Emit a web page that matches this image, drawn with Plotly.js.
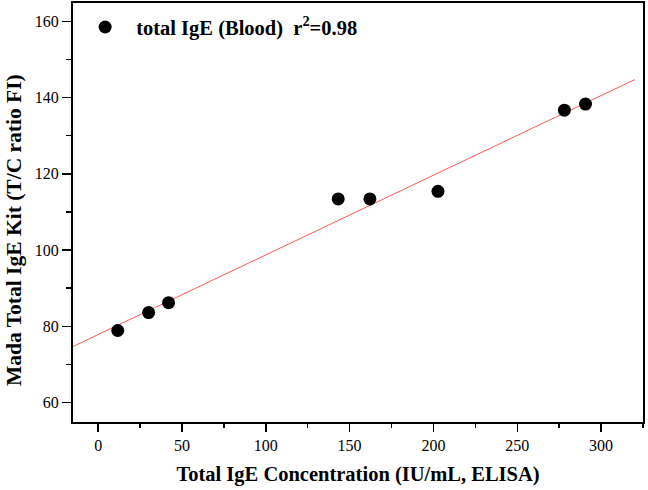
<!DOCTYPE html>
<html>
<head>
<meta charset="utf-8">
<script src="https://cdn.plot.ly/plotly-3.0.1.min.js"></script>
<style>html,body{margin:0;padding:0;background:#fff;}#chart{width:648px;height:490px;}</style>
</head>
<body>
<div id="chart"></div>
<script>
const concX = [11.7, 30.1, 42.0, 143.2, 162.1, 202.7, 278.1, 290.7];
const kitY = [78.9, 83.6, 86.2, 113.4, 113.4, 115.4, 136.7, 138.3];
const fitX = [-15, 320];
const fitY = [74.7, 144.7];
const seriesName = '<b>total IgE (Blood)  r<sup>2</sup>=0.98</b>';
const xTitle = '<b>Total IgE Concentration (IU/mL, ELISA)</b>';
const yTitle = '<b>Mada Total IgE Kit (T/C ratio FI)</b>';

const font = 'Liberation Serif, Times New Roman, serif';

const data = [
  {x: fitX, y: fitY, mode: 'lines', type: 'scatter', showlegend: false,
   line: {color: 'rgb(255,90,90)', width: 1}, hoverinfo: 'skip'},
  {x: concX, y: kitY, mode: 'markers', type: 'scatter', name: seriesName,
   marker: {color: '#000', size: 13, symbol: 'circle'}}
];

const layout = {
  width: 648, height: 490,
  margin: {l: 73, r: 5, t: 3, b: 68},
  paper_bgcolor: '#fff', plot_bgcolor: '#fff',
  font: {family: font, color: '#000', size: 16},
  showlegend: true,
  legend: {x: 0.002, y: 0.99, xanchor: 'left', yanchor: 'top',
           font: {family: font, size: 20.5, color: '#000'},
           bgcolor: 'rgba(0,0,0,0)', itemwidth: 52, itemsizing: 'trace'},
  xaxis: {
    range: [-15, 325], showgrid: false, zeroline: false,
    showline: true, linecolor: '#000', linewidth: 2, mirror: true,
    ticks: 'outside', ticklen: 8, tickwidth: 1.5, tickcolor: '#000',
    dtick: 50, tick0: 0,
    minor: {ticks: 'outside', ticklen: 4, tickwidth: 1.5, tickcolor: '#000', dtick: 25},
    tickfont: {family: font, size: 16},
    title: {text: xTitle, font: {family: font, size: 20.5}, standoff: 13}
  },
  yaxis: {
    range: [54.9, 164.8], showgrid: false, zeroline: false,
    showline: true, linecolor: '#000', linewidth: 2, mirror: true,
    ticks: 'outside', ticklen: 9, tickwidth: 1.5, tickcolor: '#000',
    dtick: 20, tick0: 0,
    minor: {ticks: 'outside', ticklen: 5, tickwidth: 1.5, tickcolor: '#000', dtick: 10},
    tickfont: {family: font, size: 16}
  },
  annotations: [{
    text: yTitle, textangle: -90, showarrow: false,
    xref: 'paper', yref: 'paper', xanchor: 'center', yanchor: 'middle',
    x: -(73 - 14) / 570, y: (422 - 230) / 419,
    font: {family: font, size: 21.5, color: '#000'}
  }]
};

Plotly.newPlot('chart', data, layout, {displayModeBar: false, staticPlot: true});
</script>
</body>
</html>
